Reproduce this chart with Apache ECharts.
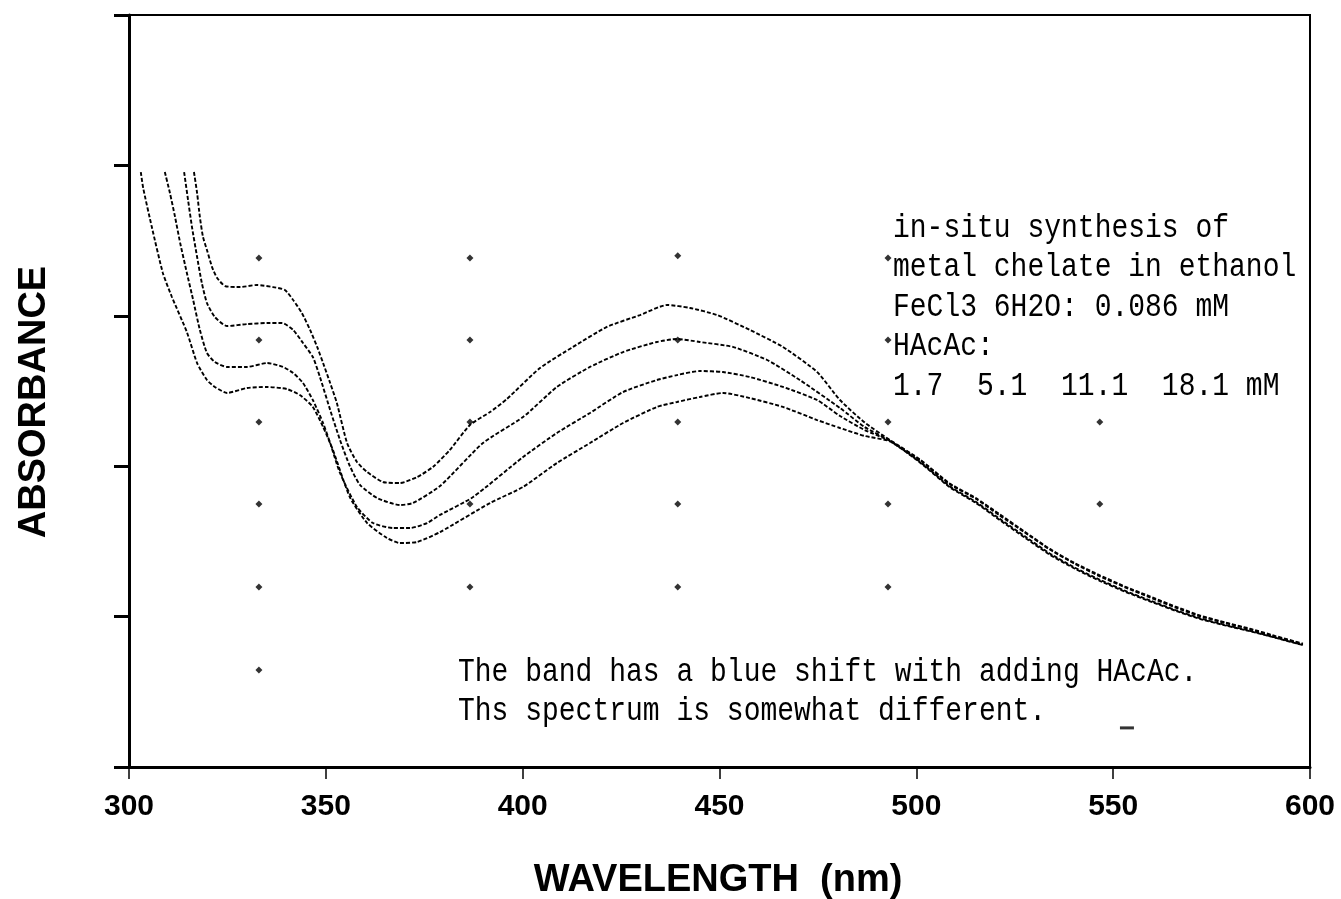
<!DOCTYPE html>
<html>
<head>
<meta charset="utf-8">
<script src="https://cdn.jsdelivr.net/npm/echarts@6/dist/echarts.min.js"></script>
<style>
html,body{margin:0;padding:0;background:#fff;}
#chart{width:1341px;height:899px;}
</style>
</head>
<body>
<div id="chart"></div>
<script>
// x tick labels (nm)
const xTicks = [300, 350, 400, 450, 500, 550, 600];

// Spectra: [wavelength nm, absorbance (arbitrary units, 0-5 axis)]
const hacac18_1 = [
  [316.5,3.956],[317.3,3.816],[318.0,3.657],[318.8,3.524],[319.8,3.438],[321.1,3.324],[322.4,3.251],[324.4,3.198],
  [328.2,3.191],[332.5,3.205],[336.6,3.191],[339.6,3.172],[341.7,3.105],[343.9,3.019],[346.0,2.906],[347.8,2.793],
  [349.3,2.686],[351.1,2.553],[352.8,2.420],[355.4,2.154],[357.9,2.028],[360.5,1.961],[364.5,1.895],[368.8,1.888],
  [373.2,1.928],[377.2,1.995],[381.5,2.108],[386.6,2.274],[391.7,2.360],[396.0,2.447],[404.4,2.653],[412.8,2.793],
  [421.4,2.926],[429.8,3.005],[436.7,3.072],[442.5,3.052],[449.4,3.005],[457.7,2.906],[466.1,2.793],[474.8,2.626],
  [480.6,2.440],[486.9,2.290],
  [493.3,2.174],[500.9,2.045],[508.5,1.885],[515.0,1.790],[521.2,1.680],[527.5,1.565],[533.9,1.450],[540.3,1.355],
  [546.6,1.275],[553.0,1.200],[559.3,1.135],[565.7,1.068],[572.0,1.008],[578.4,0.962],[584.7,0.920],[591.1,0.872],[598.2,0.820]
];
const hacac11_1 = [
  [314.0,3.956],[315.0,3.770],[316.0,3.590],[317.3,3.391],[318.5,3.218],[319.8,3.085],[321.8,2.992],[324.9,2.932],
  [330.0,2.945],[335.1,2.952],[338.9,2.952],[341.7,2.906],[344.2,2.819],[346.7,2.726],[348.5,2.593],[351.1,2.374],
  [353.6,2.174],[356.1,2.001],[358.7,1.875],[363.0,1.789],[368.8,1.742],[372.1,1.755],[379.0,1.868],[389.9,2.154],
  [400.1,2.327],[408.7,2.527],[417.1,2.660],[425.5,2.759],[434.1,2.826],[439.2,2.846],[445.0,2.826],[453.4,2.793],
  [462.1,2.706],[470.4,2.573],[480.6,2.387],[486.9,2.260],
  [493.3,2.170],[500.9,2.040],[508.5,1.880],[515.0,1.785],[521.2,1.672],[527.5,1.560],[533.9,1.446],[540.3,1.350],
  [546.6,1.268],[553.0,1.195],[559.3,1.128],[565.7,1.062],[572.0,1.003],[578.4,0.958],[584.7,0.916],[591.1,0.868],[598.2,0.816]
];
const hacac5_1 = [
  [309.1,3.956],[310.4,3.816],[311.7,3.657],[313.0,3.484],[314.7,3.285],[316.3,3.105],[318.0,2.906],[319.8,2.753],
  [321.8,2.693],[324.9,2.660],[330.0,2.660],[335.1,2.686],[339.1,2.660],[341.7,2.620],[344.2,2.553],[346.7,2.440],
  [349.3,2.287],[351.1,2.154],[353.6,1.955],[357.9,1.729],[362.0,1.622],[367.1,1.589],[371.4,1.589],[375.7,1.622],
  [379.0,1.676],[387.4,1.795],[400.1,2.061],[408.7,2.221],[417.1,2.354],[425.5,2.493],[434.1,2.573],[439.2,2.606],
  [445.0,2.633],[450.9,2.626],[457.7,2.593],[466.1,2.527],[474.8,2.440],[480.6,2.334],[486.9,2.240],
  [493.3,2.168],[500.9,2.030],[508.5,1.866],[515.0,1.765],[521.2,1.650],[527.5,1.535],[533.9,1.420],[540.3,1.325],
  [546.6,1.245],[553.0,1.172],[559.3,1.108],[565.7,1.045],[572.0,0.990],[578.4,0.945],[584.7,0.906],[591.1,0.862],[598.2,0.812]
];
const hacac1_7 = [
  [303.0,3.956],[303.6,3.850],[305.8,3.590],[308.6,3.285],[310.9,3.125],[314.7,2.892],[317.3,2.686],[319.8,2.573],
  [321.8,2.527],[324.9,2.487],[330.0,2.520],[335.1,2.527],[340.1,2.513],[343.4,2.473],[346.7,2.394],[349.3,2.261],
  [351.8,2.108],[356.1,1.795],[360.5,1.622],[365.5,1.523],[368.8,1.489],[373.2,1.496],[379.0,1.562],[391.7,1.755],
  [400.1,1.862],[408.7,2.021],[417.1,2.154],[425.5,2.287],[434.1,2.394],[439.2,2.427],[445.0,2.460],[450.9,2.487],
  [457.7,2.453],[466.1,2.394],[474.8,2.307],[480.6,2.254],[486.9,2.201],
  [493.3,2.165],[500.9,2.025],[508.5,1.860],[515.0,1.758],[521.2,1.642],[527.5,1.526],[533.9,1.412],[540.3,1.318],
  [546.6,1.238],[553.0,1.166],[559.3,1.102],[565.7,1.040],[572.0,0.985],[578.4,0.942],[584.7,0.903],[591.1,0.860],[598.2,0.810]
];

// Reference grid dots plotted in the original figure
const gridDots = [
  [333.0,3.384],[333.0,2.839],[333.0,2.294],[333.0,1.749],[333.0,1.197],[333.0,0.645],
  [386.6,3.384],[386.6,2.839],[386.6,2.294],[386.6,1.749],[386.6,1.197],
  [439.4,3.40],[439.4,2.839],[439.4,2.294],[439.4,1.749],[439.4,1.197],
  [492.8,3.384],[492.8,2.839],[492.8,2.294],[492.8,1.749],[492.8,1.197],
  [546.6,2.294],[546.6,1.749]
];
const strayMarks = [[553.5,0.26]];

const yTitle = 'ABSORBANCE';
const xTitle = 'WAVELENGTH  (nm)';
const noteTop = [
  'in-situ synthesis of',
  'metal chelate in ethanol',
  'FeCl3 6H2O: 0.086 mM',
  'HAcAc:',
  '1.7  5.1  11.1  18.1 mM'
];
const noteBottom = [
  'The band has a blue shift with adding HAcAc.',
  'Ths spectrum is somewhat different.'
];

const chart = echarts.init(document.getElementById('chart'), null, {renderer: 'canvas'});

const lineStyleBase = {color: '#000', width: 1.9, type: [4, 2]};
function curve(name, data) {
  return {
    name: name, type: 'line', data: data, showSymbol: false, smooth: 0.2,
    lineStyle: lineStyleBase, silent: true, z: 3
  };
}

const monoFont = '"Liberation Mono", "DejaVu Sans Mono", monospace';
const sansFont = '"Liberation Sans", Arial, sans-serif';

chart.setOption({
  animation: false,
  backgroundColor: '#fff',
  grid: {left: 129, right: 31, top: 15, bottom: 132, show: true, borderColor: '#000', borderWidth: 2,
         containLabel: false, outerBoundsMode: 'none'},
  xAxis: {
    type: 'value', min: 300, max: 600, interval: 50,
    axisLine: {show: true, onZero: false, lineStyle: {color: '#000', width: 3}},
    axisTick: {show: true, inside: false, length: 12, lineStyle: {color: '#000', width: 1.5}},
    axisLabel: {
      margin: 25, color: '#000', fontSize: 30, fontWeight: 'bold', fontFamily: sansFont,
      formatter: function (v) { return xTicks.indexOf(v) >= 0 ? String(v) : ''; }
    },
    splitLine: {show: false}
  },
  yAxis: {
    type: 'value', min: 0, max: 5, interval: 1,
    axisLine: {show: true, onZero: false, lineStyle: {color: '#000', width: 3}},
    axisTick: {show: true, inside: false, length: 15, lineStyle: {color: '#000', width: 3}},
    axisLabel: {show: false},
    splitLine: {show: false}
  },
  series: [
    curve('18.1 mM', hacac18_1),
    curve('11.1 mM', hacac11_1),
    curve('5.1 mM', hacac5_1),
    curve('1.7 mM', hacac1_7),
    {type: 'scatter', data: gridDots, symbol: 'diamond', symbolSize: 7, itemStyle: {color: '#000'}, silent: true, z: 2},
    {type: 'scatter', data: strayMarks, symbol: 'rect', symbolSize: [14, 3], itemStyle: {color: '#000'}, silent: true, z: 2}
  ],
  graphic: [
    {
      type: 'text', x: 35, y: 402, rotation: Math.PI / 2, z: 10,
      style: {text: yTitle, font: 'bold 38px ' + sansFont, fill: '#000', align: 'center', verticalAlign: 'middle'}
    },
    {
      type: 'text', x: 718, y: 881, z: 10,
      style: {text: xTitle, font: 'bold 38px ' + sansFont, fill: '#000', align: 'center', verticalAlign: 'middle'}
    },
    {
      type: 'text', left: 893, top: 208, scaleY: 1.2, z: 10,
      style: {text: noteTop.join('\n'), font: '28px ' + monoFont, lineHeight: 33, fill: '#000'}
    },
    {
      type: 'text', left: 458, top: 652, scaleY: 1.2, z: 10,
      style: {text: noteBottom.join('\n'), font: '28px ' + monoFont, lineHeight: 33, fill: '#000'}
    }
  ]
});
</script>
</body>
</html>
